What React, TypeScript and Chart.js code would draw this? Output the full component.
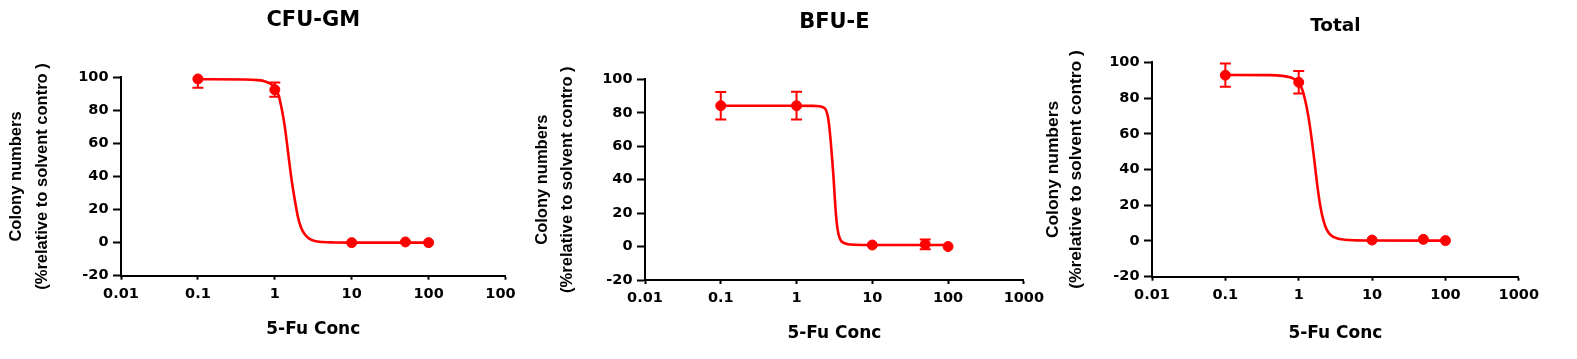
import React, { useEffect, useRef } from "react";
import { Chart, registerables } from "chart.js";

Chart.register(...registerables);

// ---------- data ----------
const xTickValues = [0.01, 0.1, 1, 10, 100, 1000];
const xTickLabels = ["0.01", "0.1", "1", "10", "100", "1000"];
const yTickValues = [-20, 0, 20, 40, 60, 80, 100];

const concentrations = [0.1, 1, 10, 50, 100];

const cfuGmMean = [99, 92.5, 0, 0.4, 0];
const cfuGmSd = [5.3, 4.3, 0, 0, 0];
const cfuGmCurveX = [0.1, 0.4, 0.6, 0.75, 0.9, 1.0, 1.12, 1.24, 1.35, 1.44, 1.53, 1.62, 1.73, 1.85, 2.0, 2.2, 2.45, 2.8, 3.3, 4.2, 6, 10, 100];
const cfuGmCurveY = [98.8, 98.7, 98.3, 97.5, 95.8, 94, 89, 80, 70, 60, 50, 41, 32, 24, 15.5, 9, 5, 2.4, 1.0, 0.35, 0.1, 0, 0];

const bfuEMean = [84.2, 84.2, 0.9, 1.3, 0];
const bfuESd = [8.2, 8.3, 0, 2.9, 0];
const bfuECurveX = [0.1, 1, 1.6, 2.0, 2.25, 2.45, 2.6, 2.7, 2.8, 2.92, 3.06, 3.18, 3.29, 3.42, 3.58, 3.8, 4.2, 4.8, 6, 10, 100];
const bfuECurveY = [84.2, 84.2, 84.1, 83.9, 83.2, 81.5, 77.5, 72, 65, 55, 43, 31, 21, 13, 7.5, 4, 2.2, 1.4, 1.05, 0.9, 0.9];

const totalMean = [92.8, 88.8, 0.5, 0.9, 0.2];
const totalSd = [6.5, 6.3, 0, 0, 0];
const totalCurveX = [0.1, 0.4, 0.6, 0.76, 0.9, 1.0, 1.1, 1.22, 1.35, 1.48, 1.59, 1.7, 1.82, 1.96, 2.17, 2.4, 2.7, 3.3, 4.2, 6, 10, 100];
const totalCurveY = [92.9, 92.8, 92.4, 91.6, 90.2, 88.5, 85.5, 79, 70, 59, 49, 39, 29, 20, 11.5, 6.5, 3.5, 1.5, 0.7, 0.35, 0.25, 0.2];

const yTitleLines = ["Colony numbers", "(%relative to solvent contro )"];
const xTitleText = "5-Fu Conc";

// ---------- layout / style ----------
const RED = "#ff0000";
const H = 359;

type PanelCfg = {
  title: string;
  mean: number[];
  sd: number[];
  curveX: number[];
  curveY: number[];
  canvasLeft: number;
  canvasWidth: number;
  clipWidth: number;
  chartLeft: number;
  chartRight: number;
  chartTop: number;
  chartBottom: number;
  titleY: number;
  titleSize: number;
  xTitleY: number;
  yTitleX1: number;
  yTitleLineH: number;
  yTitleSize: number;
};

const panels: PanelCfg[] = [
  {
    title: "CFU-GM", mean: cfuGmMean, sd: cfuGmSd, curveX: cfuGmCurveX, curveY: cfuGmCurveY,
    canvasLeft: 0, canvasWidth: 545, clipWidth: 516,
    chartLeft: 121, chartRight: 505.5, chartTop: 77.3, chartBottom: 275.7,
    titleY: 20.7, titleSize: 21, xTitleY: 330, yTitleX1: 16.9, yTitleLineH: 25.4, yTitleSize: 16.5,
  },
  {
    title: "BFU-E", mean: bfuEMean, sd: bfuESd, curveX: bfuECurveX, curveY: bfuECurveY,
    canvasLeft: 520, canvasWidth: 530, clipWidth: 530,
    chartLeft: 645, chartRight: 1024.3, chartTop: 79.3, chartBottom: 280,
    titleY: 22.7, titleSize: 21, xTitleY: 334, yTitleX1: 542, yTitleLineH: 25.3, yTitleSize: 16.5,
  },
  {
    title: "Total", mean: totalMean, sd: totalSd, curveX: totalCurveX, curveY: totalCurveY,
    canvasLeft: 1040, canvasWidth: 537, clipWidth: 537,
    chartLeft: 1152, chartRight: 1518.8, chartTop: 62.3, chartBottom: 276.7,
    titleY: 25.8, titleSize: 18.5, xTitleY: 334, yTitleX1: 1053.7, yTitleLineH: 22.3, yTitleSize: 17.4,
  },
];

function buildConfig(p: PanelCfg): any {
  const curve = p.curveX.map((x, i) => ({ x, y: p.curveY[i] }));
  const points = concentrations.map((x, i) => ({ x, y: p.mean[i] }));
  const errorSets = concentrations
    .map((x, i) =>
      p.sd[i] > 0
        ? {
            type: "line",
            xAxisID: "x",
            yAxisID: "y",
            data: [
              { x, y: p.mean[i] - p.sd[i] },
              { x, y: p.mean[i] + p.sd[i] },
            ],
            borderColor: RED,
            borderWidth: 2,
            pointStyle: "line",
            pointRadius: 5.5,
            pointHoverRadius: 5.5,
            pointBorderWidth: 2,
            pointBorderColor: RED,
            pointBackgroundColor: RED,
            clip: 2,
          }
        : null
    )
    .filter(Boolean);

  const titleLH = p.titleSize * 1.2;
  const xTitleSize = 17;
  const xTitleLH = xTitleSize * 1.2;

  return {
    type: "line",
    data: {
      datasets: [
        {
          xAxisID: "x",
          yAxisID: "y",
          data: points,
          showLine: false,
          pointRadius: 5,
          pointHoverRadius: 5,
          pointBackgroundColor: RED,
          pointBorderColor: RED,
          pointBorderWidth: 1,
          clip: false,
        },
        ...errorSets,
        {
          xAxisID: "x",
          yAxisID: "y",
          data: curve,
          borderColor: RED,
          borderWidth: 2.6,
          pointRadius: 0,
          pointHoverRadius: 0,
          cubicInterpolationMode: "monotone",
          clip: false,
        },
      ],
    },
    options: {
      animation: false,
      responsive: false,
      devicePixelRatio: 1,
      events: [],
      layout: {
        padding: {
          left: 0,
          top: 0,
          bottom: 0,
          right: p.canvasWidth - (p.chartRight - p.canvasLeft),
        },
      },
      plugins: {
        legend: { display: false },
        tooltip: { enabled: false },
        title: { display: false },
      },
      scales: {
        x: {
          type: "logarithmic",
          position: "bottom",
          min: 0.01,
          max: 1000,
          afterBuildTicks: (s: any) => {
            s.ticks = xTickValues.map((v) => ({ value: v }));
          },
          afterFit: (s: any) => {
            s.height = H - p.chartBottom;
          },
          ticks: {
            autoSkip: false,
            maxRotation: 0,
            minRotation: 0,
            padding: 6,
            color: "#000",
            font: { family: "'DejaVu Sans'", size: 14.5, weight: "bold" },
            callback: (v: any) => {
              const idx = xTickValues.indexOf(Number(v));
              return idx >= 0 ? xTickLabels[idx] : "";
            },
          },
          grid: {
            display: true,
            drawOnChartArea: false,
            drawTicks: true,
            tickLength: 4,
            tickColor: "#000",
            tickWidth: 2,
            color: "#000",
          },
          border: { display: true, color: "#000", width: 2 },
          title: {
            display: true,
            text: xTitleText,
            color: "#000",
            font: { family: "'DejaVu Sans'", size: xTitleSize, weight: "bold", lineHeight: 1.2 },
            padding: { top: 0, bottom: H - p.xTitleY - xTitleLH / 2 },
          },
        },
        xt: {
          type: "linear",
          axis: "x",
          position: "top",
          display: true,
          afterFit: (s: any) => {
            s.height = p.chartTop;
          },
          ticks: { display: false },
          grid: { display: false, drawTicks: false },
          border: { display: false },
          title: {
            display: true,
            text: p.title,
            color: "#000",
            font: { family: "'DejaVu Sans'", size: p.titleSize, weight: "bold", lineHeight: 1.2 },
            padding: { top: p.titleY - titleLH / 2, bottom: 0 },
          },
        },
        y: {
          type: "linear",
          position: "left",
          min: -20,
          max: 100,
          afterBuildTicks: (s: any) => {
            s.ticks = yTickValues.map((v) => ({ value: v }));
          },
          afterFit: (s: any) => {
            s.width = p.chartLeft - p.canvasLeft;
          },
          ticks: {
            padding: 4.5,
            color: "#000",
            font: { family: "'DejaVu Sans'", size: 14.5, weight: "bold" },
            callback: (v: any) => String(v),
          },
          grid: {
            display: true,
            drawOnChartArea: false,
            drawTicks: true,
            tickLength: 8,
            tickColor: "#000",
            tickWidth: 2,
            color: "#000",
          },
          border: { display: true, color: "#000", width: 2 },
          title: {
            display: true,
            text: yTitleLines,
            color: "#000",
            font: {
              family: "'Liberation Sans', Arial, sans-serif",
              size: p.yTitleSize,
              weight: "bold",
              lineHeight: p.yTitleLineH / p.yTitleSize,
            },
            padding: { top: p.yTitleX1 - p.canvasLeft - p.yTitleLineH / 2, bottom: 0 },
          },
        },
      },
    },
  };
}

function Panel({ cfg }: { cfg: PanelCfg }) {
  const ref = useRef<HTMLCanvasElement>(null);
  useEffect(() => {
    if (!ref.current) return;
    const chart = new Chart(ref.current, buildConfig(cfg));
    return () => chart.destroy();
  }, [cfg]);
  return (
    <div
      style={{
        position: "absolute",
        left: cfg.canvasLeft,
        top: 0,
        width: cfg.clipWidth,
        height: H,
        overflow: "hidden",
      }}
    >
      <canvas
        ref={ref}
        width={cfg.canvasWidth}
        height={H}
        style={{ display: "block", width: cfg.canvasWidth, height: H }}
      />
    </div>
  );
}

export default function App() {
  return (
    <div
      style={{
        position: "absolute",
        left: 0,
        top: 0,
        width: 1577,
        height: H,
        background: "#fff",
        overflow: "hidden",
      }}
    >
      {panels.map((p) => (
        <Panel key={p.title} cfg={p} />
      ))}
    </div>
  );
}
